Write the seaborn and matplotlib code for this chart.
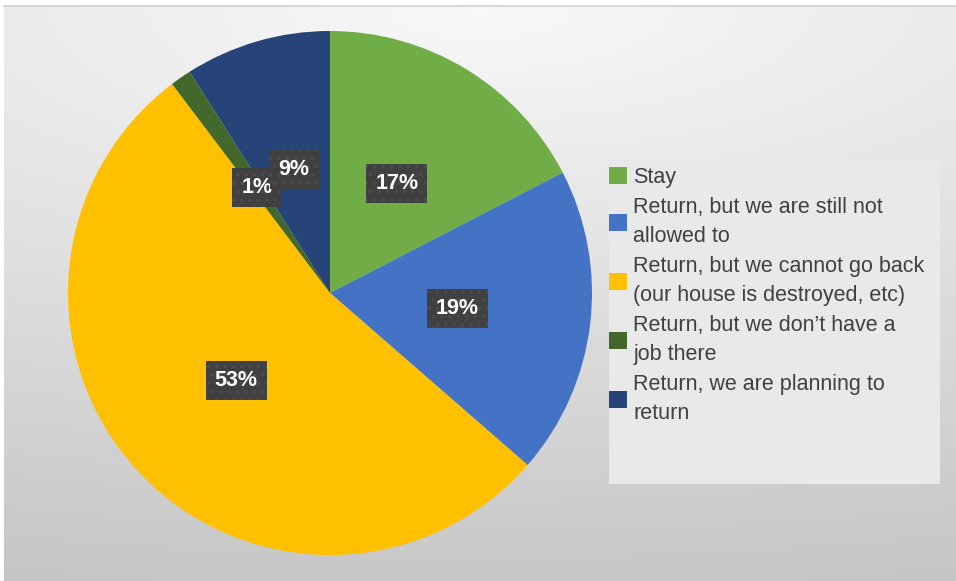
import numpy as np
import matplotlib
matplotlib.use("Agg")
import matplotlib.pyplot as plt
from matplotlib.patches import Rectangle
import seaborn as sns

# Survey answers, in the order the slices are drawn (clockwise from 12 o'clock)
categories = [
    "Stay",
    "Return, but we are still not\nallowed to",
    "Return, but we cannot go back\n(our house is destroyed, etc)",
    "Return, but we don\u2019t have a\njob there",
    "Return, we are planning to\nreturn",
]
shares = [17.4, 19.0, 53.3, 1.3, 9.0]
colors = ["#70AD47", "#4472C4", "#FFC000", "#43682B", "#264478"]

sns.set_theme(style="white")
plt.rcParams["font.family"] = ["Liberation Sans", "DejaVu Sans"]

W, H = 956, 581
fig = plt.figure(figsize=(W / 100, H / 100), dpi=100)
fig.patch.set_facecolor("white")

# Chart-area background: soft gray gradient, lightest at the top centre
bg = fig.add_axes([4 / W, 0, 1 - 4 / W, (H - 6) / H])
bg.set_axis_off()
yy, xx = np.mgrid[0:1:300j, 0:1:500j]
dist = np.sqrt(((xx - 0.5) / 1.8) ** 2 + yy ** 2)
val = 0.975 - 0.195 * dist
bg.imshow(np.dstack([val, val, val]), aspect="auto", extent=(0, 1, 0, 1),
          origin="upper", interpolation="bilinear")
bg.set_xlim(0, 1)
bg.set_ylim(0, 1)
bg.plot([0, 1], [1, 1], color="#d0d0d0", lw=1.2, transform=bg.transAxes, clip_on=False)

# Pie
R = 262
cx, cy = 330, 293
ax = fig.add_axes([(cx - R) / W, (H - cy - R) / H, 2 * R / W, 2 * R / H])
wedges, _, autotexts = ax.pie(
    shares,
    colors=colors,
    startangle=90,
    counterclock=False,
    radius=1,
    autopct="%.0f%%",
    pctdistance=0.49,
    wedgeprops=dict(linewidth=0),
    textprops=dict(color="white", fontsize=15.5, fontweight="bold"),
)
for t in autotexts:
    t.set_bbox(dict(boxstyle="square,pad=0.42", facecolor="#404040",
                    edgecolor="#4d4d4d", hatch="..", linewidth=0))
ax.set_xlim(-1, 1)
ax.set_ylim(-1, 1)
ax.set_axis_off()

# Legend panel
fig.patches.append(Rectangle((609 / W, 1 - 484 / H), (940 - 609) / W, (484 - 160) / H,
                             transform=fig.transFigure, facecolor="#e9e9e9",
                             edgecolor="none", zorder=1))
leg = fig.legend(
    wedges, categories,
    loc="upper left",
    bbox_to_anchor=(609 / W, 1 - 167 / H),
    frameon=False,
    fontsize=15.5,
    handlelength=0.84,
    handleheight=0.8,
    handletextpad=0.28,
    labelspacing=0.42,
    borderpad=0,
    borderaxespad=0,
    labelcolor="#404040",
)
for t in leg.get_texts():
    t.set_linespacing(1.5)
leg.set_zorder(3)

fig.savefig("out.png", dpi=100)
